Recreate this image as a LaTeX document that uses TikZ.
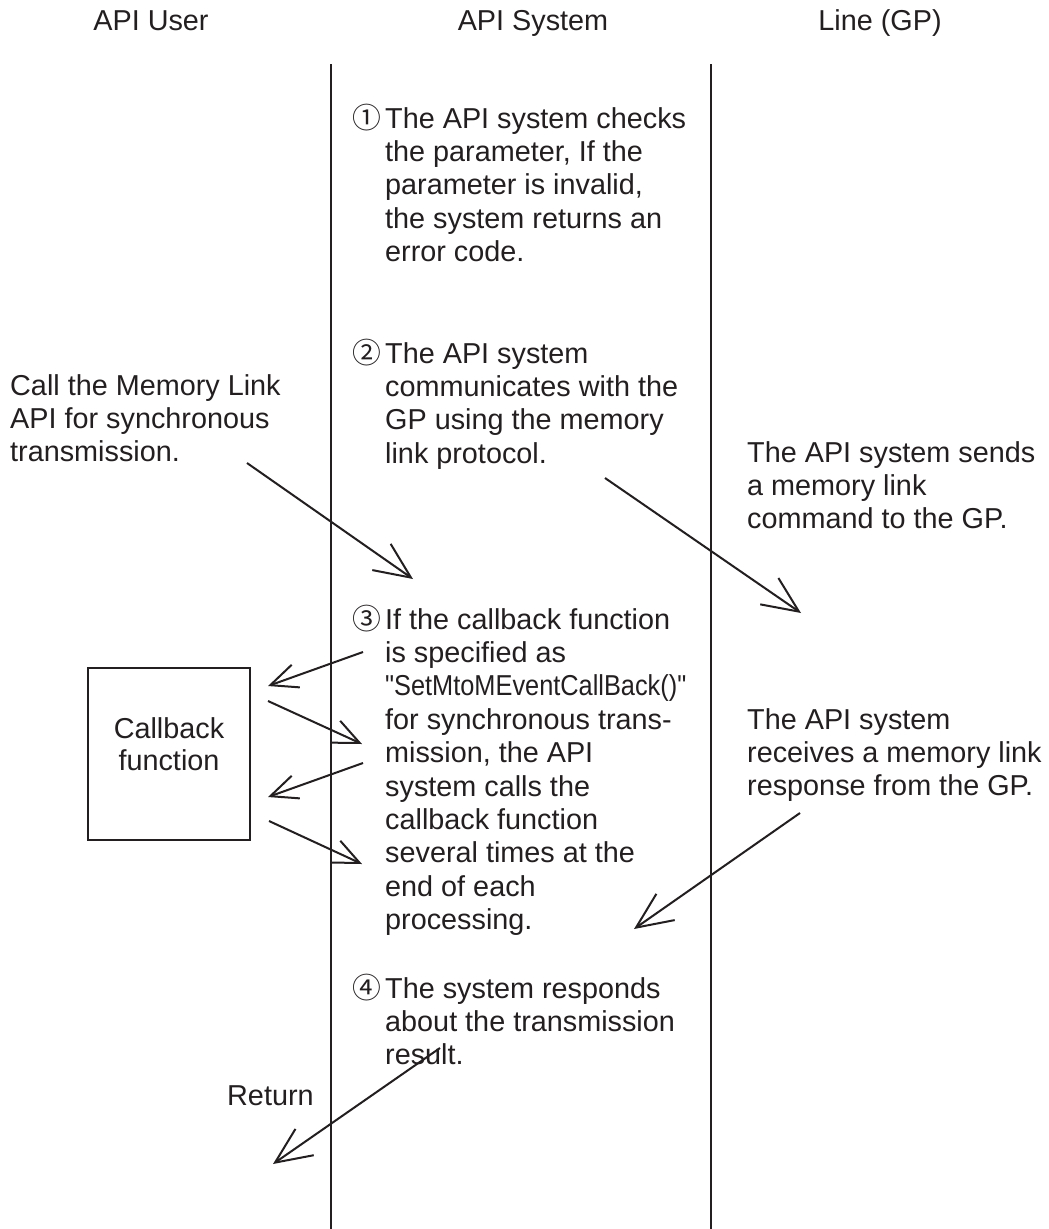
\documentclass[tikz,border=0pt]{standalone}
\usepackage{fontspec}
\setmainfont{Liberation Sans}
\newfontfamily\cjkfont{Noto Sans CJK JP}
\newfontfamily\narrowfont[FakeStretch=0.88]{Liberation Sans}
\usetikzlibrary{arrows.meta}
\definecolor{ink}{RGB}{35,31,32}
\newcommand\mlines[1]{\vtop{\baselineskip=33.4pt\lineskiplimit=-100pt\halign{##\hfil\cr#1\crcr}}}
\newcommand\mlinesc[1]{\vtop{\baselineskip=32pt\lineskiplimit=-100pt\halign{\hfil##\hfil\cr#1\crcr}}}
\newcommand\circnum[1]{\llap{{\cjkfont #1}\kern 4pt}}
\begin{document}
\begin{tikzpicture}[x=1pt,y=-1pt,
  every node/.style={inner sep=0pt, text=ink, font=\fontsize{28.8pt}{33.4pt}\selectfont},
  head/.style={anchor=base},
  txt/.style={anchor=base west},
  lifeline/.style={draw=ink, line width=2pt},
  bigarrow/.style={draw=ink, line width=2pt, -{Straight Barb[length=36pt,width=32pt]}},
  smallarrow/.style={draw=ink, line width=2pt, -{Straight Barb[length=27pt,width=24pt]}},
  cbbox/.style={draw=ink, line width=2pt, minimum width=162pt, minimum height=172pt}
]
\useasboundingbox (0,0) rectangle (1049,1229);
\fill[white] (0,0) rectangle (1049,1229);

% headers
\node[head] (hu) at (151,30) {API User};
\node[head] (hs) at (533,30) {API System};
\node[head] (hl) at (880,30) {Line (GP)};

% lifelines
\coordinate (s1top) at (331,64);
\coordinate (s1bot) at (331,1229);
\coordinate (s2top) at (711,64);
\coordinate (s2bot) at (711,1229);
\draw[lifeline] (s1top) -- (s1bot);
\draw[lifeline] (s2top) -- (s2bot);

% API system texts
\node[txt] (b1) at (385,128) {\mlines{\circnum{①}The API system checks\cr
the parameter, If the\cr parameter is invalid,\cr the system returns an\cr error code.}};
\node[txt] (b2) at (385,363) {\mlines{\circnum{②}The API system\cr
communicates with the\cr GP using the memory\cr link protocol.}};
\node[txt] (b3) at (385,629) {\mlines{\circnum{③}If the callback function\cr
is specified as\cr {\narrowfont "SetMtoMEventCallBack()"}\cr for synchronous trans-\cr
mission, the API\cr system calls the\cr callback function\cr several times at the\cr
end of each\cr processing.}};
\node[txt] (b4) at (385,998) {\mlines{\circnum{④}The system responds\cr
about the transmission\cr result.}};

% user texts
\node[txt] (call) at (10,395) {\mlines{Call the Memory Link\cr API for synchronous\cr transmission.}};
\node[cbbox] (cb) at (169,754) {};
\node[anchor=base] (cbt) at (169,738) {\mlinesc{Callback\cr function}};
\node[txt] (ret) at (227,1105) {Return};

% line texts
\node[txt] (r1) at (747,462) {\mlines{The API system sends\cr a memory link\cr command to the GP.}};
\node[txt] (r2) at (747,729) {\mlines{The API system\cr receives a memory link\cr response from the GP.}};

% arrows
\coordinate (a1s) at (247,463); \coordinate (a1e) at (413,579);
\coordinate (a2s) at (605,478); \coordinate (a2e) at (801,613);
\coordinate (a3s) at (800,813); \coordinate (a3e) at (634,929);
\coordinate (a4s) at (440,1048); \coordinate (a4e) at (273,1164);
\draw[bigarrow] (a1s) -- (a1e);
\draw[bigarrow] (a2s) -- (a2e);
\draw[bigarrow] (a3s) -- (a3e);
\draw[bigarrow] (a4s) -- (a4e);

\coordinate (ca1) at (363,652); \coordinate (ca2) at (268,686);
\coordinate (cb1) at (268,701); \coordinate (cb2) at (362,744);
\coordinate (cc1) at (363,763); \coordinate (cc2) at (268,797);
\coordinate (cd1) at (269,821); \coordinate (cd2) at (362,864);
\draw[smallarrow] (ca1) -- (ca2);
\draw[smallarrow] (cb1) -- (cb2);
\draw[smallarrow] (cc1) -- (cc2);
\draw[smallarrow] (cd1) -- (cd2);
\end{tikzpicture}
\end{document}
